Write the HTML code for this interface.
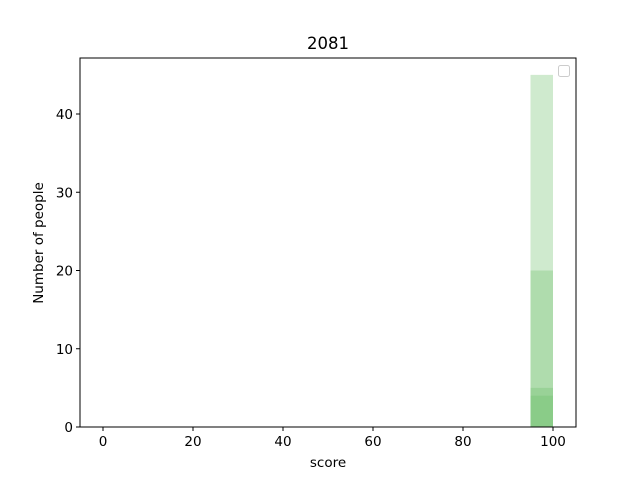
<!DOCTYPE html>
<html><head><meta charset="utf-8"><style>body{margin:0;background:#fff}svg{font-family:"DejaVu Sans","Liberation Sans",sans-serif}</style></head>
<body>
<svg id="c" width="640" height="480"></svg>
<script>
const binStarts=[95,95,95,95];
const binWidth=5;
const counts=[45,20,5,4];
const xTicks=[0,20,40,60,80,100];
const yTicks=[0,10,20,30,40];
const NS='http://www.w3.org/2000/svg';
const svg=document.getElementById('c');
const L=80,R=576,T=58,B=427;
const xs=v=>103+v*4.5;
const ys=v=>B-v*7.825;
function mk(t,a,p){const e=document.createElementNS(NS,t);for(const k in a)e.setAttribute(k,a[k]);(p||svg).appendChild(e);return e;}
const ttl=mk('text',{x:328,y:49,'text-anchor':'middle','font-size':16.5});ttl.textContent='2081';


counts.forEach((c,i)=>{
 const r=mk('rect',{x:xs(binStarts[i]),y:ys(c),width:xs(binStarts[i]+binWidth)-xs(binStarts[i]),height:B-ys(c),fill:'#6cbf6a','fill-opacity':0.33});
 
 
});
const ax=mk('rect',{x:L,y:T,width:R-L,height:B-T,fill:'none',stroke:'#000','stroke-width':1});


xTicks.forEach(v=>{
 const x=xs(v);mk('line',{x1:x,x2:x,y1:B,y2:B+4,stroke:'#000'});
 const t=mk('text',{x:x,y:B+19,'text-anchor':'middle','font-size':13.5});t.textContent=v;
 
 
});
yTicks.forEach(v=>{
 const y=ys(v);mk('line',{x1:L-4,x2:L,y1:y,y2:y,stroke:'#000'});
 const t=mk('text',{x:L-7,y:y+5,'text-anchor':'end','font-size':13.5});t.textContent=v;
 
 
});
const xl=mk('text',{x:328,y:467,'text-anchor':'middle','font-size':13.5});xl.textContent='score';


const yl=mk('text',{x:43,y:243,'text-anchor':'middle','font-size':13.5,transform:'rotate(-90 43 243)'});yl.textContent='Number of people';


const lg=mk('rect',{x:558.5,y:65.5,width:11,height:11,rx:2,fill:'#fff',stroke:'#ccc'});


</script>
</body></html>
